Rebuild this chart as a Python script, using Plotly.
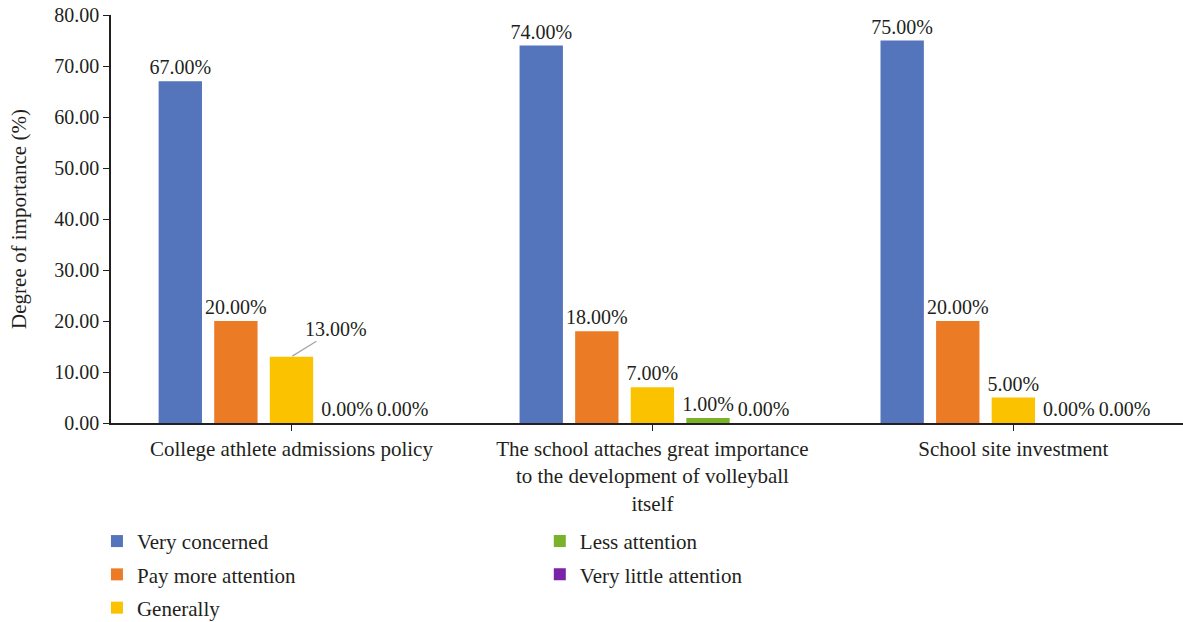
import plotly.graph_objects as go

categories = [
    "College athlete admissions policy",
    "The school attaches great importance<br>to the development of volleyball<br>itself",
    "School site investment",
]
series_names = [
    "Very concerned",
    "Pay more attention",
    "Generally",
    "Less attention",
    "Very little attention",
]
very_concerned = [67.0, 74.0, 75.0]
pay_more_attention = [20.0, 18.0, 20.0]
generally = [13.0, 7.0, 5.0]
less_attention = [0.0, 1.0, 0.0]
very_little_attention = [0.0, 0.0, 0.0]
series_values = [very_concerned, pay_more_attention, generally, less_attention, very_little_attention]
colors = ["#5474BC", "#EC7B26", "#FBC200", "#7AB22A", "#7A22A8"]
y_ticks = [0, 10, 20, 30, 40, 50, 60, 70, 80]

FONT = "Liberation Serif"
TEXT_COLOR = "#231F20"

fig = go.Figure()
for i, (name, vals, col) in enumerate(zip(series_names, series_values, colors)):
    labels = [f"{v:.2f}%" for v in vals]
    if i == 2:
        # the first "Generally" label is placed off the bar with a leader line
        labels[0] = ""
    fig.add_trace(go.Bar(
        name=name,
        x=categories,
        y=vals,
        marker=dict(color=col, line=dict(width=0)),
        text=labels,
        textposition="outside",
        constraintext="none",
        textfont=dict(family=FONT, size=20, color=TEXT_COLOR),
        cliponaxis=False,
        legendgroup=name,
        legend="legend" if i < 3 else "legend2",
    ))

# leader-line label for the first "Generally" bar
fig.add_annotation(
    x=categories[0], y=generally[0], xref="x", yref="y",
    text=f"{generally[0]:.2f}%",
    showarrow=True, arrowhead=0, arrowwidth=1.3, arrowcolor="#A6A6A6",
    ax=45, ay=-28, standoff=1,
    font=dict(family=FONT, size=20, color=TEXT_COLOR),
)

legend_font = dict(family=FONT, size=21, color=TEXT_COLOR)
fig.update_layout(
    width=1183, height=622,
    margin=dict(l=111, r=0, t=15, b=199, autoexpand=False),
    paper_bgcolor="white", plot_bgcolor="white",
    font=dict(family=FONT, size=20, color=TEXT_COLOR),
    barmode="group",
    bargap=0.23,
    bargroupgap=0.22,
    showlegend=True,
    legend=dict(
        x=-0.0131, y=-0.240, xanchor="left", yanchor="top",
        orientation="v", font=legend_font,
        bgcolor="rgba(0,0,0,0)", itemclick=False, tracegroupgap=3,
    ),
    legend2=dict(
        x=0.400, y=-0.240, xanchor="left", yanchor="top",
        orientation="v", font=legend_font,
        bgcolor="rgba(0,0,0,0)", itemclick=False, tracegroupgap=3,
    ),
)
fig.update_xaxes(
    range=[-0.5, 2.47],
    automargin=False,
    showline=True, linecolor="#231F20", linewidth=1.5,
    ticks="outside", ticklen=6, tickcolor="#231F20",
    tickfont=dict(family=FONT, size=21, color=TEXT_COLOR),
    tickangle=0,
    showgrid=False,
)
fig.update_yaxes(
    range=[0, 80],
    automargin=False,
    tickvals=y_ticks, tickformat=".2f",
    showline=True, linecolor="#231F20", linewidth=1.5,
    ticks="outside", ticklen=6, tickcolor="#231F20",
    tickfont=dict(family=FONT, size=20, color=TEXT_COLOR),
    showgrid=False, zeroline=False,
    title=dict(text="Degree of importance (%)", font=dict(family=FONT, size=21, color=TEXT_COLOR), standoff=22),
)

fig.write_html("out.html")
